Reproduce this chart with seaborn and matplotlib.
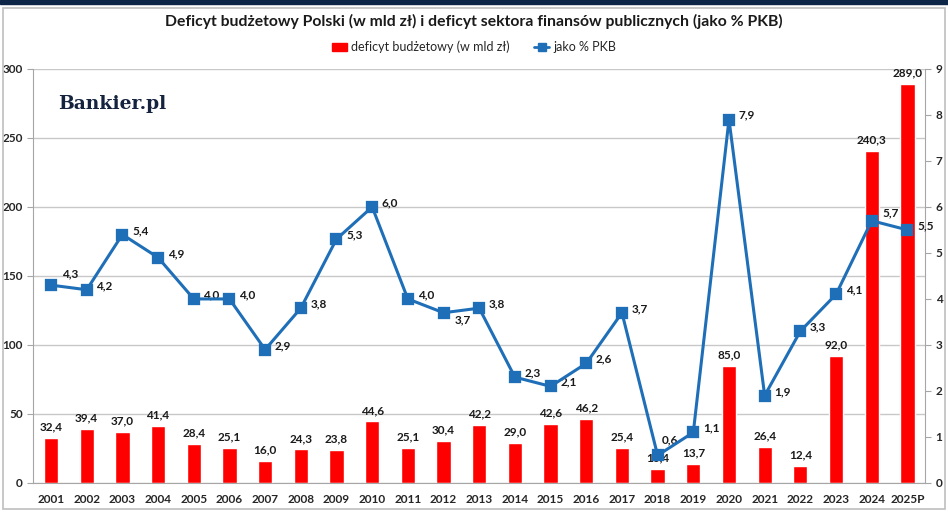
import numpy as np
import pandas as pd
import seaborn as sns
import matplotlib.pyplot as plt
from matplotlib.patches import Rectangle
from matplotlib.lines import Line2D

# dane
years = ['2001', '2002', '2003', '2004', '2005', '2006', '2007', '2008', '2009', '2010',
         '2011', '2012', '2013', '2014', '2015', '2016', '2017', '2018', '2019', '2020',
         '2021', '2022', '2023', '2024', '2025P']
deficit = [32.4, 39.4, 37.0, 41.4, 28.4, 25.1, 16.0, 24.3, 23.8, 44.6,
           25.1, 30.4, 42.2, 29.0, 42.6, 46.2, 25.4, 10.4, 13.7, 85.0,
           26.4, 12.4, 92.0, 240.3, 289.0]
pct_gdp = [4.3, 4.2, 5.4, 4.9, 4.0, 4.0, 2.9, 3.8, 5.3, 6.0,
           4.0, 3.7, 3.8, 2.3, 2.1, 2.6, 3.7, 0.6, 1.1, 7.9,
           1.9, 3.3, 4.1, 5.7, 5.5]

df = pd.DataFrame({'rok': years, 'deficyt': deficit, 'pkb': pct_gdp})

sns.set_style('white')
plt.rcParams['font.family'] = ['Lato', 'DejaVu Sans']

RED = '#ff0000'
BLUE = '#1f6fb8'

fig = plt.figure(figsize=(9.48, 5.18), dpi=100)
ax = fig.add_axes([0.035, 0.0676, 0.941, 0.7994])

# ramka wokół wykresu i pasek u góry
fig.patches.append(Rectangle((0.003, 0.018), 0.994, 0.966, transform=fig.transFigure,
                             fill=False, edgecolor='#bfbfbf', linewidth=1.2))
fig.patches.append(Rectangle((0, 0.992), 1, 0.008, transform=fig.transFigure,
                             color='#0d2546'))

sns.barplot(data=df, x='rok', y='deficyt', color=RED, width=0.4, saturation=1,
            ax=ax, zorder=2)
ax.set_ylim(0, 300)
ax.set_yticks(range(0, 301, 50))
ax.yaxis.grid(True, color='#c8c8c8', linewidth=1)
ax.set_axisbelow(True)
ax.set_xlabel('')
ax.set_ylabel('')
for s in ['top', 'right']:
    ax.spines[s].set_visible(False)
for s in ['left', 'bottom']:
    ax.spines[s].set_color('#a6a6a6')
ax.tick_params(axis='both', labelsize=8.5, length=4, color='#a6a6a6', direction='out')
ax.tick_params(axis='x', length=0, pad=8)
for lab in ax.get_xticklabels() + ax.get_yticklabels():
    lab.set_fontweight('bold')

for i, v in enumerate(deficit):
    ax.annotate(f'{v:.1f}'.replace('.', ','), (i, v), xytext=(0, 4), textcoords='offset points',
                ha='center', va='bottom', fontsize=8.5, fontweight='bold', color='#1a1a1a')

ax2 = ax.twinx()
sns.pointplot(data=df, x='rok', y='pkb', color=BLUE, markers='s', ax=ax2,
              markersize=6.5, linewidth=2.2, zorder=5)
ax2.set_ylim(0, 9)
ax2.set_yticks(range(0, 10))
ax2.set_ylabel('')
ax2.set_xlabel('')
for s in ['top', 'left', 'bottom']:
    ax2.spines[s].set_visible(False)
ax2.spines['right'].set_color('#a6a6a6')
ax2.tick_params(axis='y', labelsize=8.5, length=4, color='#a6a6a6')
for lab in ax2.get_yticklabels():
    lab.set_fontweight('bold')

# przesunięcia etykiet linii (w punktach)
label_offsets = {'2001': (8, 8), '2012': (8, -5), '2018': (3, 11), '2024': (8, 6)}
for i, (yr, v) in enumerate(zip(years, pct_gdp)):
    dx, dy = label_offsets.get(yr, (7, 3))
    ax2.annotate(f'{v:.1f}'.replace('.', ','), (i, v), xytext=(dx, dy), textcoords='offset points',
                 ha='left', va='center', fontsize=8.5, fontweight='bold', color='#1a1a1a')

ax.set_xlim(-0.5, len(years) - 0.5)

fig.text(0.5, 0.958, 'Deficyt budżetowy Polski (w mld zł) i deficyt sektora finansów publicznych (jako % PKB)',
         ha='center', va='center', fontsize=11.3, fontweight='bold', color='#1a1a1a')

handles = [Rectangle((0, 0), 1, 1, color=RED),
           Line2D([0], [0], color=BLUE, marker='s', markersize=6, linewidth=2)]
fig.legend(handles, ['deficyt budżetowy (w mld zł)', 'jako % PKB'], loc='center',
           bbox_to_anchor=(0.5, 0.909), ncol=2, frameon=False, fontsize=9,
           handlelength=1.2, handletextpad=0.3, columnspacing=2)

fig.text(0.061, 0.8, 'Bankier.pl', ha='left', va='center', fontsize=13.5, fontweight='bold',
         family='DejaVu Serif', color='#15233f')

fig.savefig('out.png', dpi=100)
